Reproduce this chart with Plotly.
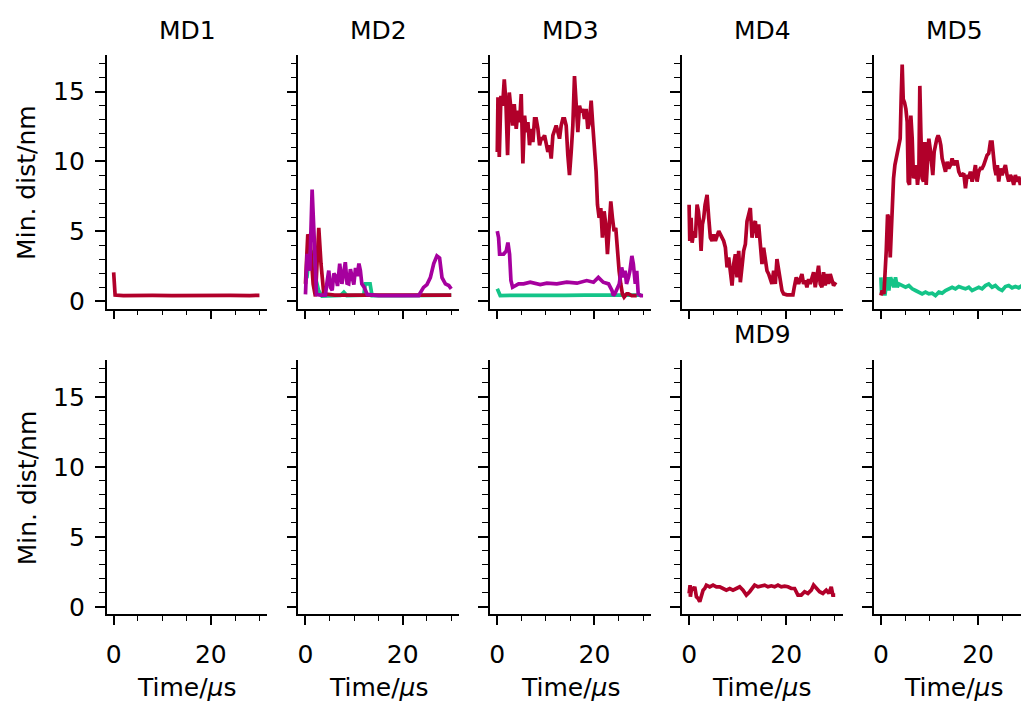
import plotly.graph_objects as go

# ---------------- data (time in µs, min. distance in nm) ----------------
md1_red_t = [0, 0.15, 0.3, 2, 5, 8, 12, 16, 20, 24, 28, 30]
md1_red_d = [2.07, 1.2, 0.45, 0.42, 0.45, 0.43, 0.42, 0.44, 0.42, 0.43, 0.42, 0.43]

md2_red_t = [0, 0.48, 1.03, 1.58, 2.05, 2.74, 3.2, 3.77, 6, 10, 15, 20, 25, 30]
md2_red_d = [1.25, 4.8, 4.08, 1.25, 0.35, 5.26, 2.67, 0.54, 0.45, 0.45, 0.45, 0.45, 0.45, 0.45]
md2_green_t = [0, 0.34, 0.9, 1.5, 2.05, 2.7, 3.4, 7.2, 7.9, 8.5, 12.0, 12.3, 13.3, 13.7, 20, 25, 30]
md2_green_d = [1.9, 1.84, 3.6, 3.5, 1.72, 0.78, 0.38, 0.42, 0.66, 0.42, 0.45, 1.25, 1.25, 0.42, 0.42, 0.44, 0.45]
md2_mag_t = [0, 0.34, 0.89, 1.37, 1.85, 2.26, 3.1, 4.1, 4.45, 4.8, 5.15, 5.5, 5.85, 6.2, 6.6,
             7.05, 7.5, 7.85, 8.2, 8.55, 8.9, 9.25, 9.6, 9.95, 10.3, 10.65, 11.0, 11.3, 11.6, 12.1,
             12.7, 15, 20, 23.3, 24.3, 25.0, 25.7, 26.4, 27.05, 27.6, 28.1, 28.8, 29.5, 30]
md2_mag_d = [0.5, 3.4, 2.2, 8.0, 4.1, 0.5, 0.45, 0.45, 1.4, 2.2, 1.0, 0.8, 2.0, 1.8, 1.1,
             2.7, 1.25, 2.2, 2.8, 1.3, 1.25, 2.3, 1.7, 1.2, 2.4, 1.8, 2.7, 2.2, 1.25, 1.0,
             0.5, 0.42, 0.42, 0.42, 1.0, 1.2, 1.7, 2.7, 3.25, 3.1, 1.7, 1.25, 1.13, 0.9]

md3_red_t = [0, 0.14, 0.41, 0.75, 1.10, 1.44, 1.78, 2.12, 2.47, 2.81, 3.15, 3.49, 3.90, 4.25,
             4.59, 4.93, 5.27, 5.62, 5.96, 6.30, 6.64, 6.99, 7.33, 7.67, 8.01, 8.36, 8.70, 9.04,
             9.38, 9.73, 10.07, 10.41, 10.75, 11.10, 11.44, 11.78, 12.12, 12.47, 12.81, 13.15,
             13.49, 13.84, 14.18, 14.52, 14.86, 15.21, 15.55, 15.89, 16.23, 16.58, 16.92, 17.26,
             17.60, 17.95, 18.29, 18.63, 18.97, 19.32, 19.66, 20.0, 20.34, 20.62, 20.96, 21.30,
             21.64, 21.99, 22.33, 22.67, 23.01, 23.36, 23.70, 24.04, 24.38, 24.73, 25.07, 25.41,
             25.75, 26.10, 26.64, 26.99, 27.67, 28.70]
md3_red_d = [10.68, 14.58, 10.33, 14.69, 13.99, 15.87, 14.22, 10.45, 14.93, 13.99, 12.57, 14.1,
             12.33, 13.63, 12.81, 14.81, 9.86, 13.28, 12.10, 12.81, 11.16, 12.33, 11.39, 13.04,
             13.04, 12.33, 11.16, 11.63, 11.63, 11.86, 11.04, 10.68, 11.16, 10.21, 11.86, 12.33,
             12.57, 12.10, 11.63, 12.57, 13.04, 13.04, 12.57, 10.45, 9.03, 10.68, 12.57, 16.1,
             13.99, 12.10, 13.99, 13.51, 13.75, 13.04, 13.75, 12.33, 12.81, 14.34, 12.57, 11.16,
             9.27, 6.91, 5.97, 6.67, 4.55, 6.44, 5.50, 3.37, 5.50, 7.15, 5.97, 5.02, 5.26, 3.14,
             2.19, 1.25, 0.54, 0.31, 0.54, 0.54, 0.42, 0.42]
md3_green_t = [0, 0.27, 0.6, 3, 6, 10, 14, 18, 22, 26, 29.7]
md3_green_d = [0.9, 0.66, 0.42, 0.44, 0.42, 0.45, 0.43, 0.45, 0.44, 0.43, 0.45]
md3_mag_t = [0, 0.27, 0.48, 1.30, 1.85, 2.19, 2.53, 2.81, 3.15, 3.70, 4.38, 5.41, 6.78, 8.84,
             10.2, 12.26, 14.3, 16.4, 18.4, 19.8, 20.8, 21.8, 22.9, 23.6, 23.9, 24.2, 24.6, 25.1,
             25.6, 26.0, 26.3, 26.6, 27.0, 27.3, 27.7, 28.0, 28.4, 28.7, 29.0, 29.5, 30.0]
md3_mag_d = [5.02, 4.55, 3.37, 3.37, 3.61, 4.2, 3.37, 1.49, 1.01, 1.13, 1.25, 1.25, 1.37, 1.2,
             1.3, 1.25, 1.37, 1.3, 1.49, 1.37, 1.72, 1.37, 1.25, 0.78, 0.42, 0.54, 0.90, 1.25,
             2.43, 1.72, 2.19, 1.25, 1.72, 2.19, 3.25, 2.67, 1.25, 2.19, 0.54, 0.42, 0.42]

md4_red_t = [0, 0.14, 0.41, 0.62, 0.96, 1.30, 1.64, 1.92, 2.19, 2.47, 2.74, 3.01, 3.29, 3.70,
             4.04, 4.38, 4.73, 5.07, 5.41, 5.75, 6.10, 6.44, 6.78, 7.12, 7.47, 7.81, 8.15, 8.49,
             8.84, 9.18, 9.52, 9.86, 10.21, 10.55, 10.89, 11.23, 11.58, 11.92, 12.26, 12.60,
             12.95, 13.29, 13.63, 13.97, 14.32, 14.66, 15.0, 15.34, 15.68, 16.03, 16.37, 16.71,
             17.05, 17.40, 17.74, 18.08, 18.42, 18.77, 19.11, 19.45, 20.14, 20.82, 21.37, 21.64,
             22.05, 22.53, 22.88, 23.22, 23.56, 23.90, 24.25, 24.59, 24.93, 25.27, 25.62, 25.96,
             26.30, 26.64, 26.99, 27.33, 27.67, 28.01, 28.36, 28.70, 29.04, 29.38, 29.73, 30.2]
md4_red_d = [6.91, 4.32, 5.97, 4.20, 5.02, 4.55, 6.91, 6.44, 5.50, 3.61, 5.50, 5.97, 6.91, 7.62,
             5.97, 4.55, 4.32, 4.79, 4.32, 4.79, 5.02, 4.79, 4.55, 4.32, 3.84, 2.43, 3.14, 1.96,
             1.13, 2.67, 3.37, 1.72, 3.61, 1.37, 2.78, 3.61, 4.08, 5.73, 6.20, 6.67, 4.55, 5.50,
             5.73, 4.55, 5.50, 3.61, 2.67, 3.84, 3.14, 2.19, 1.96, 1.49, 1.25, 2.19, 1.25, 3.02,
             2.19, 1.25, 0.78, 0.54, 0.47, 0.47, 0.47, 1.01, 1.72, 1.25, 1.60, 1.96, 1.25, 1.49,
             1.01, 1.60, 1.25, 1.72, 2.08, 1.01, 1.72, 2.55, 1.25, 1.01, 2.08, 1.13, 1.96, 1.25,
             1.96, 1.49, 1.13, 1.37]

md5_red_t = [0, 0.27, 0.62, 0.82, 1.10, 1.37, 1.64, 1.92, 2.12, 2.33, 2.60, 2.88, 3.15, 3.42,
             3.70, 3.97, 4.18, 4.38, 4.59, 4.86, 5.14, 5.41, 5.62, 5.89, 6.16, 6.44, 6.71, 6.99,
             7.26, 7.53, 7.81, 8.01, 8.22, 8.49, 8.77, 9.04, 9.32, 9.59, 9.86, 10.14, 10.41,
             10.68, 10.96, 11.23, 11.51, 11.78, 12.05, 12.33, 12.60, 12.95, 13.29, 13.63, 13.97,
             14.32, 14.66, 15.0, 15.34, 15.68, 16.03, 16.37, 16.71, 17.05, 17.40, 17.74, 18.08,
             18.42, 18.77, 19.11, 19.45, 19.79, 20.14, 20.48, 20.82, 21.16, 21.51, 21.85, 22.19,
             22.53, 22.88, 23.15, 23.42, 23.70, 23.97, 24.25, 24.59, 24.93, 25.27, 25.62, 25.96,
             26.30, 26.64, 26.99, 27.33, 27.67, 28.01, 28.36, 28.70, 29.04, 29.38, 29.73, 30.07]
md5_red_d = [0.42, 0.78, 0.54, 1.72, 3.61, 6.20, 5.97, 3.14, 5.02, 7.62, 8.80, 9.74, 10.21,
             10.68, 10.92, 11.63, 14.69, 16.93, 14.46, 14.22, 13.75, 12.81, 8.56, 8.33, 13.28,
             11.63, 8.80, 9.03, 9.74, 8.33, 9.27, 15.4, 12.10, 8.80, 8.56, 11.39, 8.33, 10.45,
             11.63, 10.92, 10.21, 9.03, 10.68, 11.39, 11.63, 11.86, 11.63, 11.16, 10.21, 9.74,
             9.27, 9.98, 9.50, 9.74, 10.21, 9.74, 9.98, 9.98, 9.27, 9.03, 9.03, 9.15, 8.09, 9.03,
             8.80, 9.27, 8.56, 9.03, 9.74, 8.56, 9.27, 9.50, 9.50, 9.74, 10.21, 10.45, 10.57,
             11.39, 11.39, 10.21, 9.50, 9.03, 9.74, 8.56, 9.50, 9.03, 9.50, 9.74, 9.03, 8.56,
             9.03, 8.80, 8.33, 9.03, 8.56, 8.92, 8.33, 8.80, 8.09, 8.33, 8.21]
md5_green_t = [0, 0.14, 0.41, 0.82, 1.30, 1.64, 1.99, 2.33, 2.67, 3.01, 3.36, 3.70, 4.38, 5.07,
               5.75, 6.44, 7.12, 7.81, 8.49, 9.18, 9.86, 10.55, 11.23, 11.92, 12.60, 13.29,
               13.97, 14.66, 15.34, 16.03, 16.71, 17.40, 18.08, 18.77, 19.45, 20.14, 20.82,
               21.51, 22.19, 22.88, 23.56, 24.25, 24.93, 25.62, 26.30, 26.99, 27.67, 28.36,
               29.04, 29.73, 30.07]
md5_green_d = [1.72, 0.54, 1.37, 0.42, 1.72, 0.78, 1.72, 1.37, 1.01, 1.72, 1.01, 1.25, 1.13,
               1.01, 1.13, 0.90, 0.78, 0.66, 0.54, 0.66, 0.54, 0.59, 0.42, 0.66, 0.59, 0.78,
               0.90, 1.01, 0.90, 1.06, 0.97, 0.90, 1.01, 0.78, 0.90, 1.01, 0.90, 1.13, 1.25,
               1.01, 1.13, 0.90, 0.78, 1.06, 1.13, 0.97, 1.06, 0.97, 1.13, 1.01, 0.97]

md9_red_t = [0, 0.2, 0.27, 0.55, 0.82, 1.16, 1.51, 1.85, 2.19, 2.53, 2.88, 3.22, 3.56, 4.25,
             4.93, 5.62, 6.30, 6.99, 7.67, 8.36, 9.04, 9.73, 10.41, 11.10, 11.78, 12.47, 13.15,
             13.49, 14.18, 14.86, 15.55, 16.23, 16.92, 17.60, 18.29, 18.97, 19.66, 20.34, 21.03,
             21.71, 22.40, 23.08, 23.77, 24.45, 25.14, 25.62, 26.16, 26.85, 27.53, 28.22, 28.77,
             29.25, 29.59, 30.07]
md9_red_d = [0.96, 1.55, 0.72, 1.43, 1.19, 1.43, 0.72, 0.60, 0.37, 0.84, 1.19, 1.31, 1.55, 1.43,
             1.55, 1.43, 1.43, 1.31, 1.19, 1.31, 1.19, 1.31, 1.43, 1.19, 0.84, 1.08, 1.43, 1.55,
             1.43, 1.50, 1.55, 1.43, 1.50, 1.43, 1.55, 1.43, 1.48, 1.43, 1.31, 1.31, 0.84, 0.84,
             1.08, 0.96, 1.19, 1.55, 1.31, 1.08, 0.96, 1.19, 0.96, 1.43, 0.84, 0.84]

titles = ["MD1", "MD2", "MD3", "MD4", "MD5", "", "", "", "MD9", ""]
x_ticks = [0, 20]
x_minor = [5, 10, 15, 25, 30]
y_ticks = [0, 5, 10, 15]
y_minor = [1, 2, 3, 4, 6, 7, 8, 9, 11, 12, 13, 14, 16, 17]
y_label = "Min. dist/nm"
x_label = "Time/<i>μ</i>s"

RED, GREEN, MAG = "#b1002a", "#14c488", "#a6009e"

# panel index -> list of (t, d, colour); drawn in this order
series = {
    0: [(md1_red_t, md1_red_d, RED)],
    1: [(md2_green_t, md2_green_d, GREEN), (md2_red_t, md2_red_d, RED), (md2_mag_t, md2_mag_d, MAG)],
    2: [(md3_green_t, md3_green_d, GREEN), (md3_red_t, md3_red_d, RED), (md3_mag_t, md3_mag_d, MAG)],
    3: [(md4_red_t, md4_red_d, RED)],
    4: [(md5_green_t, md5_green_d, GREEN), (md5_red_t, md5_red_d, RED)],
    8: [(md9_red_t, md9_red_d, RED)],
}

# ---------------- layout ----------------
W, H = 1029, 703
OFF = 8            # page body margin of the html page
VIS_W = W - OFF    # visible figure width inside the window
FONT = "DejaVu Sans"
FS = 25
col_left = [105.7 - OFF + 192 * i for i in range(5)]
PW = 161
row_top = [55.6 - OFF, 364.0 - OFF]
row_bot = [311.7 - OFF, 620.2 - OFF]
XR = (-1.45, 31.65)
YR = (-0.52, 17.6)

fig = go.Figure()
layout = dict(width=W, height=H, margin=dict(l=0, r=0, t=0, b=0),
              plot_bgcolor="white", paper_bgcolor="white", showlegend=False,
              font=dict(family=FONT, size=FS, color="black"))
annotations = []

for k in range(10):
    r, c = divmod(k, 5)
    left = col_left[c]
    right = left + PW
    xr = list(XR)
    if right > VIS_W:
        xr[1] = XR[0] + (XR[1] - XR[0]) * (VIS_W - left) / PW
        right = VIS_W
    sfx = "" if k == 0 else str(k + 1)
    xa = dict(domain=[left / W, right / W], range=xr, anchor="y" + sfx,
              showline=True, linecolor="black", linewidth=1.6, mirror=False,
              ticks="outside", tickcolor="black", tickwidth=1.6, ticklen=9,
              tickmode="array", tickvals=x_ticks, ticklabelstandoff=8,
              minor=dict(tickmode="array", tickvals=x_minor, ticks="outside",
                         ticklen=5, tickcolor="black", tickwidth=1.3, showgrid=False),
              showgrid=False, zeroline=False, showticklabels=(r == 1),
              tickfont=dict(family=FONT, size=FS, color="black"))
    ya = dict(domain=[1 - row_bot[r] / H, 1 - row_top[r] / H], range=list(YR), anchor="x" + sfx,
              showline=True, linecolor="black", linewidth=1.6, mirror=False,
              ticks="outside", tickcolor="black", tickwidth=1.6, ticklen=10,
              tickmode="array", tickvals=y_ticks, ticklabelstandoff=5,
              minor=dict(tickmode="array", tickvals=y_minor, ticks="outside",
                         ticklen=6, tickcolor="black", tickwidth=1.3, showgrid=False),
              showgrid=False, zeroline=False, showticklabels=(c == 0),
              tickfont=dict(family=FONT, size=FS, color="black"))
    layout["xaxis" + sfx] = xa
    layout["yaxis" + sfx] = ya

    # empty placeholder so that every panel's axes are drawn
    fig.add_trace(go.Scatter(x=[None], y=[None], mode="lines", xaxis="x" + sfx,
                             yaxis="y" + sfx, hoverinfo="skip"))
    for t, d, col in series.get(k, []):
        fig.add_trace(go.Scatter(x=t, y=d, mode="lines", xaxis="x" + sfx, yaxis="y" + sfx,
                                 line=dict(color=col, width=3.7), cliponaxis=True,
                                 hoverinfo="skip"))

    cx = (left + PW / 2) / W
    if titles[k]:
        annotations.append(dict(text=titles[k], x=cx, y=1 - (row_top[r] - 25 - 1.5 * r) / H,
                                xref="paper", yref="paper", showarrow=False,
                                xanchor="center", yanchor="middle",
                                font=dict(family=FONT, size=FS, color="black")))
    if r == 1:
        annotations.append(dict(text=x_label, x=cx, y=1 - (694 - OFF) / H, xref="paper",
                                yref="paper", showarrow=False, xanchor="center",
                                yanchor="middle", font=dict(family=FONT, size=FS, color="black")))
    if c == 0:
        annotations.append(dict(text=y_label, x=(26 - OFF) / W,
                                y=1 - (row_top[r] + row_bot[r]) / 2 / H,
                                xref="paper", yref="paper", showarrow=False, textangle=-90,
                                xanchor="center", yanchor="middle",
                                font=dict(family=FONT, size=FS, color="black")))

layout["annotations"] = annotations
fig.update_layout(**layout)
fig.write_html("out.html")
